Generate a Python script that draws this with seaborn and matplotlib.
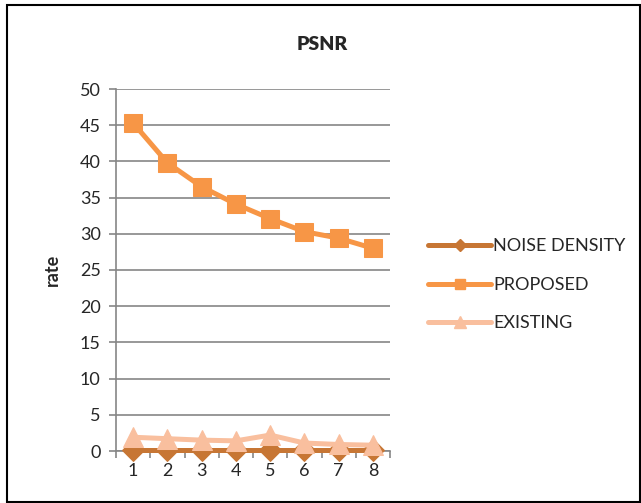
import matplotlib
matplotlib.use("Agg")
import matplotlib.pyplot as plt
from matplotlib.patches import Rectangle
from matplotlib.lines import Line2D
import seaborn as sns
import pandas as pd

categories = [1, 2, 3, 4, 5, 6, 7, 8]
noise_density = [0.1, 0.1, 0.1, 0.1, 0.1, 0.1, 0.1, 0.1]
proposed = [45.3, 39.8, 36.5, 34.1, 32.1, 30.3, 29.4, 28.0]
existing = [1.9, 1.7, 1.5, 1.4, 2.2, 1.1, 0.9, 0.8]
series_names = ["NOISE DENSITY", "PROPOSED", "EXISTING"]
y_ticks = [0, 5, 10, 15, 20, 25, 30, 35, 40, 45, 50]

sns.set_theme(style="white")
plt.rcParams['font.family'] = ['Lato', 'DejaVu Sans']

colors = ["#C77634", "#F79646", "#F9BF9E"]
markers = ["D", "s", "^"]
msizes = [11, 13, 15]

fig = plt.figure(figsize=(6.41, 5.03), dpi=100)
ax = fig.add_axes([116/641, 1 - 451/503, (390 - 116)/641, (451 - 89)/503])

df = pd.DataFrame({"x": categories * 3,
                   "y": noise_density + proposed + existing,
                   "series": [s for s in series_names for _ in categories]})

for name, c, m, ms, z in zip(series_names, colors, markers, msizes, [3, 4, 5]):
    sub = df[df["series"] == name]
    sns.lineplot(data=sub, x="x", y="y", ax=ax, color=c, marker=m,
                 markersize=ms, markeredgecolor=c, linewidth=3.6,
                 legend=False, zorder=z, clip_on=False)

ax.set_xlim(0.5, 8.5)
ax.set_ylim(0, 50)
ax.set_yticks(y_ticks)
ax.set_xticks(categories)
ax.set_xticks([i + 0.5 for i in range(0, 9)], minor=True)
ax.grid(axis="y", color="#868686", linewidth=1.2, zorder=0)
ax.set_axisbelow(True)
for s in ["top", "right"]:
    ax.spines[s].set_visible(False)
for s in ["left", "bottom"]:
    ax.spines[s].set_color("#868686")
    ax.spines[s].set_linewidth(1.2)
ax.tick_params(axis="y", which="major", length=5, color="#868686", width=1.2,
               labelsize=13, pad=6, left=True, direction="out")
ax.tick_params(axis="x", which="major", length=0, labelsize=13, pad=9, bottom=False)
ax.tick_params(axis="x", which="minor", length=5, color="#868686", width=1.2,
               bottom=True, direction="out")
ax.set_xlabel("")
ax.set_ylabel("rate", fontsize=13, fontweight="bold")
ax.yaxis.set_label_coords(-0.2, 0.5, transform=ax.transAxes)

fig.text(322/641, 1 - 45/503, "PSNR", ha="center", va="center",
         fontsize=14, fontweight="heavy")

handles = [Line2D([0], [0], color=c, marker=m, markersize=ms * 0.6,
                  markeredgecolor=c, linewidth=3.6)
           for c, m, ms in zip(colors, markers, msizes)]
fig.legend(handles, series_names, loc="upper left",
           bbox_to_anchor=(412/641, 1 - 222/503), frameon=False,
           fontsize=13, handlelength=3.5, handletextpad=0.1,
           labelspacing=1.25)

fig.add_artist(Rectangle((7/641, 1/503), (640 - 7)/641, (497)/503,
                         transform=fig.transFigure, fill=False,
                         edgecolor="black", linewidth=1.5))

fig.savefig("out.png", dpi=100)
